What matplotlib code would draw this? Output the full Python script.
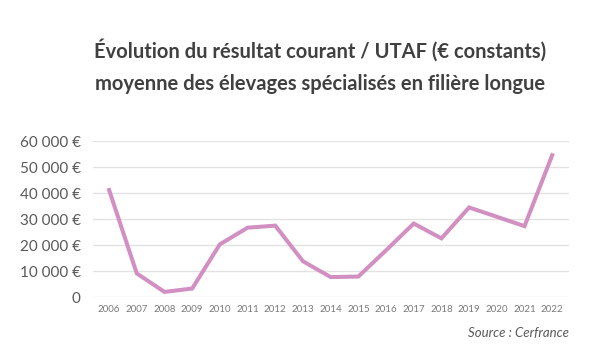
import matplotlib
matplotlib.use("Agg")
import matplotlib.pyplot as plt
from matplotlib.ticker import FuncFormatter

years = ["2006", "2007", "2008", "2009", "2010", "2011", "2012", "2013", "2014",
         "2015", "2016", "2017", "2018", "2019", "2020", "2021", "2022"]
values = [41200, 9100, 2000, 3300, 20300, 26700, 27500, 13800, 7700,
          7900, 18000, 28300, 22600, 34500, 30900, 27300, 54600]
yticks = [0, 10000, 20000, 30000, 40000, 50000, 60000]

fig = plt.figure(figsize=(6.10, 3.61), dpi=100)
ax = fig.add_axes([0.1525, 0.177, 0.78, 0.432])

x = list(range(len(years)))
ax.plot(x, values, color="#d28fc1", linewidth=2.9, solid_joinstyle="miter")

ax.set_xlim(-0.58, len(years) - 1 + 0.6)
ax.set_ylim(0, 60000)
ax.set_yticks(yticks)
ax.yaxis.set_major_formatter(FuncFormatter(
    lambda v, p: "0" if v == 0 else f"{int(v):,}".replace(",", " ") + " €"))
ax.set_xticks(x)
ax.set_xticklabels(years)

for s in ax.spines.values():
    s.set_visible(False)
ax.grid(axis="y", color="#e2e2e2", linewidth=1)
ax.set_axisbelow(True)
ax.tick_params(axis="both", length=0)
ax.tick_params(axis="y", labelsize=11, labelcolor="#595959", pad=9)
ax.tick_params(axis="x", labelsize=7, labelcolor="#7a7a7a", pad=6)
for lbl in ax.get_yticklabels():
    lbl.set_family("Lato")
for lbl in ax.get_xticklabels():
    lbl.set_family("Lato")

fig.text(0.525, 0.86, "Évolution du résultat courant / UTAF (€ constants)",
         ha="center", va="center", fontsize=14.5, fontweight="bold",
         color="#404040", family="Lato")
fig.text(0.525, 0.768, "moyenne des élevages spécialisés en filière longue",
         ha="center", va="center", fontsize=14.5, fontweight="bold",
         color="#404040", family="Lato")
fig.text(0.933, 0.077, "Source : Cerfrance", ha="right", va="center",
         fontsize=9.5, style="italic", color="#595959", family="Lato")

fig.savefig("out.png", dpi=100, facecolor="white")
